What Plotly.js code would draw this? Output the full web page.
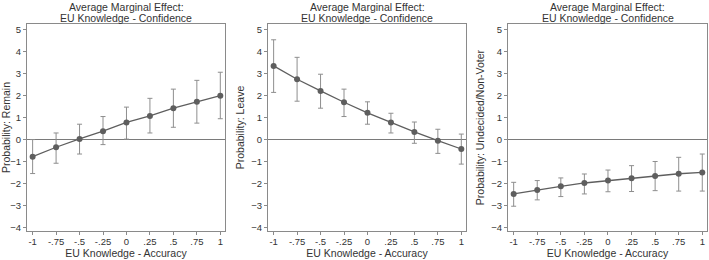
<!DOCTYPE html>
<html>
<head>
<meta charset="utf-8">
<script src="https://cdn.plot.ly/plotly-3.0.1.min.js"></script>
<style>html,body{margin:0;padding:0;background:#fff;}#chart{width:709px;height:260px;}</style>
</head>
<body>
<div id="chart"></div>
<script>
const xVals = [-1, -0.75, -0.5, -0.25, 0, 0.25, 0.5, 0.75, 1];
const xTickText = ['-1', '-.75', '-.5', '-.25', '0', '.25', '.5', '.75', '1'];
const yTickVals = [-4, -3, -2, -1, 0, 1, 2, 3, 4, 5];

const remainEst = [-0.78, -0.35, 0.03, 0.38, 0.78, 1.08, 1.43, 1.72, 2.0];
const remainHi  = [0.0, 0.3, 0.7, 1.05, 1.48, 1.88, 2.3, 2.7, 3.07];
const remainLo  = [-1.55, -1.08, -0.66, -0.23, 0.02, 0.3, 0.56, 0.75, 0.95];

const leaveEst = [3.36, 2.75, 2.22, 1.7, 1.22, 0.78, 0.35, -0.05, -0.43];
const leaveHi  = [4.55, 3.75, 2.98, 2.3, 1.72, 1.2, 0.8, 0.47, 0.25];
const leaveLo  = [2.15, 1.75, 1.43, 1.05, 0.7, 0.3, -0.17, -0.63, -1.12];

const undecEst = [-2.48, -2.3, -2.13, -1.98, -1.87, -1.77, -1.66, -1.56, -1.5];
const undecHi  = [-1.95, -1.87, -1.75, -1.57, -1.39, -1.19, -1.0, -0.81, -0.66];
const undecLo  = [-3.04, -2.75, -2.6, -2.48, -2.38, -2.37, -2.33, -2.35, -2.35];

const panelTitleLines = ['Average Marginal Effect:', 'EU Knowledge - Confidence'];
const xTitle = 'EU Knowledge - Accuracy';
const yTitles = ['Probability: Remain', 'Probability: Leave', 'Probability: Undecided/Non-Voter'];

const series = [[remainEst, remainHi, remainLo], [leaveEst, leaveHi, leaveLo], [undecEst, undecHi, undecLo]];

const FONT = 'Liberation Sans, Arial, Helvetica, sans-serif';
const lineCol = '#5e5e5e';
const barCol = '#8e8e8e';
const frameCol = '#8a8a8a';

const traces = series.map((s, i) => {
  const [est, hi, lo] = s;
  return {
    type: 'scatter', mode: 'lines+markers',
    x: xVals, y: est,
    xaxis: i === 0 ? 'x' : 'x' + (i + 1),
    yaxis: i === 0 ? 'y' : 'y' + (i + 1),
    line: {color: lineCol, width: 1.3},
    marker: {color: lineCol, size: 6},
    error_y: {
      type: 'data', symmetric: false,
      array: hi.map((h, k) => h - est[k]),
      arrayminus: lo.map((l, k) => est[k] - l),
      color: barCol, thickness: 1, width: 2.5
    },
    showlegend: false, hoverinfo: 'skip'
  };
});

const domains = [[27/709, 225/709], [268/709, 466/709], [508/709, 707/709]];
const yDom = [29/260, 236/260];
const titleLineY = [7, 18.5];

const layout = {
  width: 709, height: 260,
  margin: {l: 0, r: 0, t: 0, b: 0},
  paper_bgcolor: '#fff', plot_bgcolor: '#fff',
  font: {family: FONT, size: 9, color: '#333'},
  showlegend: false,
  annotations: [],
  shapes: []
};

domains.forEach((d, i) => {
  const sfx = i === 0 ? '' : String(i + 1);
  layout['xaxis' + sfx] = {
    domain: d, range: [-1.06, 1.05],
    anchor: 'y' + sfx,
    tickvals: xVals, ticktext: xTickText,
    ticks: 'outside', ticklen: 3, tickcolor: frameCol, tickwidth: 1,
    ticklabelstandoff: -1,
    tickfont: {family: FONT, size: 9.5, color: '#333'},
    showline: true, linecolor: frameCol, linewidth: 1, mirror: true,
    showgrid: false, zeroline: false,
    title: {text: xTitle, font: {family: FONT, size: 10.5, color: '#333'}, standoff: 0},
    automargin: false
  };
  layout['yaxis' + sfx] = {
    domain: yDom, range: [-4.17, 5.27],
    anchor: 'x' + sfx,
    tickvals: yTickVals,
    ticks: 'outside', ticklen: 3, tickcolor: frameCol, tickwidth: 1,
    tickfont: {family: FONT, size: 9.5, color: '#333'},
    showline: true, linecolor: frameCol, linewidth: 1, mirror: true,
    showgrid: false, zeroline: true, zerolinecolor: '#7a7a7a', zerolinewidth: 1,
    title: {text: yTitles[i], font: {family: FONT, size: 10.5, color: '#333'}, standoff: 4},
    automargin: false
  };
  panelTitleLines.forEach((t, j) => {
    layout.annotations.push({
      xref: 'paper', yref: 'paper',
      x: (d[0] + d[1]) / 2, y: 1 - titleLineY[j] / 260,
      xanchor: 'center', yanchor: 'middle',
      text: t, showarrow: false,
      font: {family: FONT, size: 10.5, color: '#333'}
    });
  });
});

Plotly.newPlot('chart', traces, layout, {staticPlot: true, displayModeBar: false});
</script>
</body>
</html>
